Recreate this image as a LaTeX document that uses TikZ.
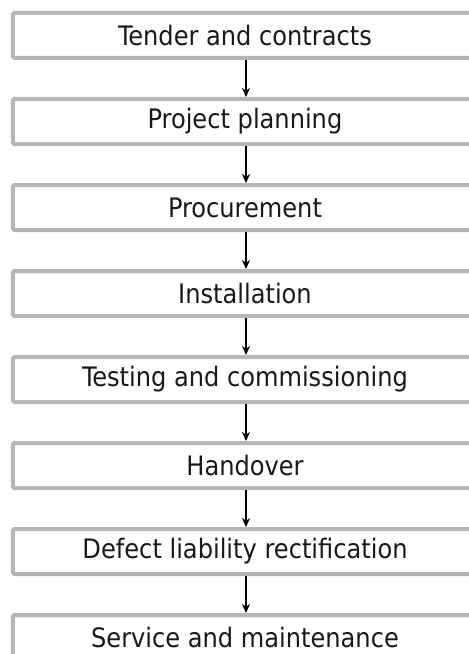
\documentclass[tikz,border=0pt]{standalone}
\usepackage{fontspec}
\setmainfont{DejaVu Sans Condensed}
\usetikzlibrary{arrows.meta}
\begin{document}
\begin{tikzpicture}[x=1bp,y=-1bp,
  stagebox/.style={draw=gray!50!white!95!black, line width=4bp, rounded corners=1.5bp,
    minimum width=464bp, minimum height=45bp, inner sep=0pt, outer sep=2bp,
    font=\fontsize{26.8bp}{31bp}\selectfont, text=black!90},
  flow/.style={-{Stealth[length=9bp,width=8bp]}, line width=1.8bp, black}]
\useasboundingbox (0,0) rectangle (469,654);
\fill[white] (0,0) rectangle (469,654);
\node[stagebox] (s1) at (245,35.5) {Tender and contracts};
\node[stagebox] (s2) at (245,121.5) {Project planning};
\node[stagebox] (s3) at (245,207.5) {Procurement};
\node[stagebox] (s4) at (245,293.5) {Installation};
\node[stagebox] (s5) at (245,379.5) {Testing and commissioning};
\node[stagebox] (s6) at (245,465.5) {Handover};
\node[stagebox] (s7) at (245,551.5) {Defect liability rectification};
\node[stagebox] (s8) at (245,637.5) {Service and maintenance};
\foreach \a/\b in {s1/s2,s2/s3,s3/s4,s4/s5,s5/s6,s6/s7,s7/s8}
  \draw[flow] ([xshift=1bp]\a.south) -- ([xshift=1bp]\b.north);
\end{tikzpicture}
\end{document}
